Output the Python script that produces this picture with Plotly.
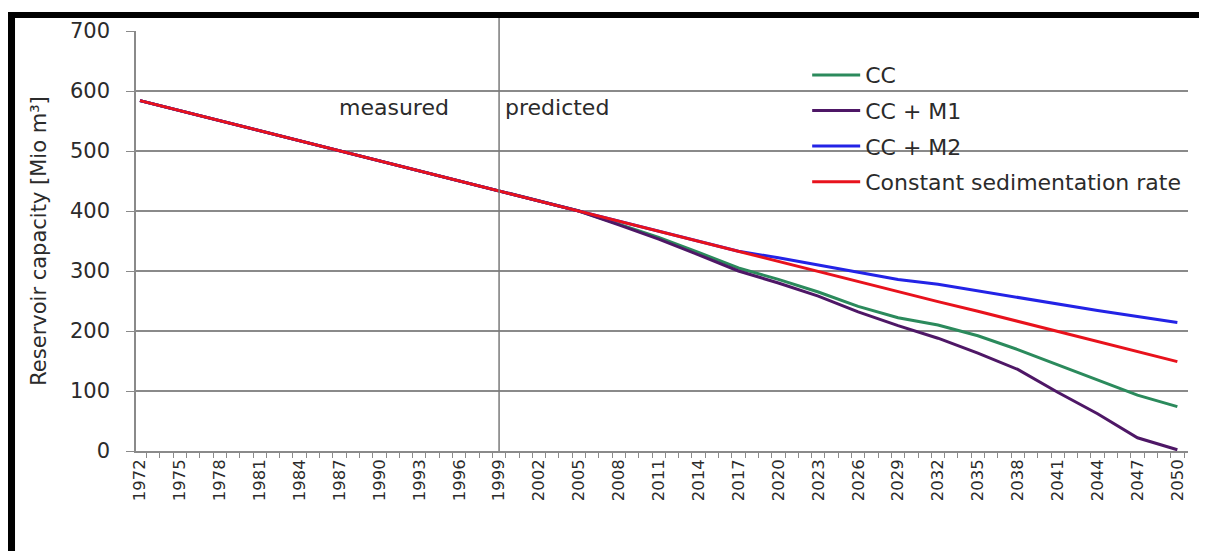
import plotly.graph_objects as go

# knots (Mio m³)
years = [1972, 1999, 2002, 2005, 2008, 2011, 2014, 2017, 2020, 2023,
         2026, 2029, 2032, 2035, 2038, 2041, 2044, 2047, 2050]

cc = [584, 433, 417, 400, 378, 356, 331, 305, 286, 265,
      241, 222, 210, 192, 169, 144, 118, 93, 74]
cc_m1 = [584, 433, 417, 400, 377, 353, 327, 300, 280, 258,
         232, 209, 188, 163, 136, 98, 62, 22, 2]
cc_m2 = [584, 433, 417, 400, 383, 366, 350, 333, 322, 310,
         297, 286, 278, 267, 256, 244, 234, 224, 214]
constant = [584, 433, 417, 400, 383, 366, 350, 333, 316, 299,
            283, 266, 249, 233, 216, 199, 183, 166, 149]

series = [
    ("CC", cc, "#2b8a5c"),
    ("CC + M1", cc_m1, "#4e1766"),
    ("CC + M2", cc_m2, "#2323e6"),
    ("Constant sedimentation rate", constant, "#e8121c"),
]

FONT = "DejaVu Sans, Arial, sans-serif"
GRID = "#8a8a8a"
TEXT = "#2b2b2b"

fig = go.Figure()
for name, vals, color in series:
    fig.add_trace(go.Scatter(
        x=years, y=vals, mode="lines", name=name, legendgroup=name,
        line=dict(color=color, width=3),
    ))

# divider between measured and predicted
fig.add_shape(type="line", xref="x", yref="paper", x0=1999, x1=1999, y0=0, y1=1.031,
              line=dict(color="#7a7a7a", width=1.5))

fig.add_annotation(x=1995.4, y=573, text="measured", showarrow=False,
                   xanchor="right", font=dict(size=22, color=TEXT, family=FONT))
fig.add_annotation(x=1999.3, y=573, text="predicted", showarrow=False,
                   xanchor="left", font=dict(size=22, color=TEXT, family=FONT))

# white legend box reaching the right edge, hiding the gridlines behind it
fig.add_shape(type="rect", xref="paper", yref="paper", x0=0.627, x1=1.0,
              y0=0.6, y1=0.945, fillcolor="white", line=dict(width=0), layer="between")

# black frame (top and left edges) around the picture
fig.add_shape(type="rect", xref="paper", yref="paper", x0=-0.1217, x1=1.03,
              y0=1.031, y1=1.0452, fillcolor="black", line=dict(width=0), layer="above")
fig.add_shape(type="rect", xref="paper", yref="paper", x0=-0.1217, x1=-0.115,
              y0=-0.26, y1=1.0452, fillcolor="black", line=dict(width=0), layer="above")

fig.update_layout(
    width=1207, height=551,
    margin=dict(l=128, r=27, t=23, b=108),
    paper_bgcolor="white", plot_bgcolor="white",
    font=dict(family=FONT, color=TEXT),
    legend=dict(
        x=0.638, y=0.945, xanchor="left", yanchor="top",
        font=dict(size=22, color=TEXT, family=FONT),
        bgcolor="rgba(255,255,255,0)", tracegroupgap=4, itemwidth=48,
    ),
    xaxis=dict(
        range=[1971.7, 2050.8], tickmode="linear", tick0=1972, dtick=3,
        tickangle=-90, tickfont=dict(size=16.5, color=TEXT),
        showgrid=False, zeroline=False,
        showline=True, linecolor=GRID, linewidth=1.5,
        ticks="",
        minor=dict(ticks="outside", tick0=1971.5, dtick=1, ticklen=5,
                   tickcolor=GRID, showgrid=False),
    ),
    yaxis=dict(
        range=[0, 700], tickmode="linear", tick0=0, dtick=100,
        tickfont=dict(size=21, color=TEXT),
        showgrid=True, gridcolor=GRID, gridwidth=1.5,
        zeroline=False, showline=True, linecolor=GRID, linewidth=1.5,
        ticks="outside", ticklen=8, tickcolor=GRID, ticklabelstandoff=12,
        title=dict(text="Reservoir capacity [Mio m³]", standoff=18,
                   font=dict(size=21, color=TEXT)),
    ),
)

fig.write_html("out.html")
